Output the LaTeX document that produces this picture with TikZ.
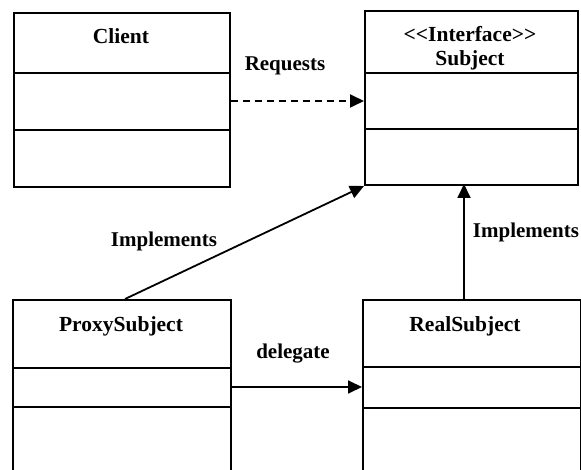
\documentclass[tikz,border=0pt]{standalone}
\usepackage{fontspec}
\newfontfamily\diagfont{Liberation Serif}
\usetikzlibrary{arrows.meta}
\tikzset{
  classbox/.style={draw, line width=2pt, rectangle, inner sep=0pt, anchor=north west},
  divider/.style={line width=2pt},
  title/.style={font=\diagfont\bfseries\fontsize{21.5}{25}\selectfont, inner sep=0pt, anchor=base},
  lbl/.style={font=\diagfont\bfseries\fontsize{21}{25}\selectfont, inner sep=0pt, anchor=base},
  link/.style={line width=1.8pt, -{Triangle[length=14pt,width=13pt]}},
}
\begin{document}
\begin{tikzpicture}[x=1pt, y=-1pt]
  \useasboundingbox (0,0) rectangle (581,470);
  \clip (0,0) rectangle (581,470);

  % class boxes
  \node[classbox, minimum width=216pt, minimum height=174pt] (client) at (13,12) {};
  \node[classbox, minimum width=213pt, minimum height=174pt] (subject) at (364,10) {};
  \node[classbox, minimum width=218pt, minimum height=200pt] (proxy) at (12,299) {};
  \node[classbox, minimum width=218pt, minimum height=200pt] (real) at (362,299) {};

  % compartments
  \draw[divider] (client.west |- 0,73) -- (client.east |- 0,73);
  \draw[divider] (client.west |- 0,130) -- (client.east |- 0,130);
  \draw[divider] (subject.west |- 0,73) -- (subject.east |- 0,73);
  \draw[divider] (subject.west |- 0,129) -- (subject.east |- 0,129);
  \draw[divider] (proxy.west |- 0,368) -- (proxy.east |- 0,368);
  \draw[divider] (proxy.west |- 0,407) -- (proxy.east |- 0,407);
  \draw[divider] (real.west |- 0,367) -- (real.east |- 0,367);
  \draw[divider] (real.west |- 0,408) -- (real.east |- 0,408);

  % class names
  \node[title] (clientname) at (121,44) {Client};
  \node[title] (subjstereo) at (470,42) {<<Interface>>};
  \node[title] (subjname) at (470,66) {Subject};
  \node[title] (proxyname) at (121,331) {ProxySubject};
  \node[title] (realname) at (465,331) {RealSubject};

  % connector end points
  \coordinate (reqA) at (client.east |- 0,101);
  \coordinate (reqB) at (subject.west |- 0,101);
  \coordinate (delA) at (proxy.east |- 0,387);
  \coordinate (delB) at (real.west |- 0,387);
  \coordinate (implA) at (125,299);
  \coordinate (implR) at (464,299);
  \coordinate (implT) at (464,184);

  % connectors
  \draw[link, dashed, dash pattern=on 7pt off 5pt] (reqA) -- (reqB);
  \draw[link] (implA) -- (subject.south west);
  \draw[link] (implR) -- (implT);
  \draw[link] (delA) -- (delB);

  % connector labels
  \node[lbl] (reqlbl) at (285,71) {Requests};
  \node[lbl] (impllbl) at (164,247) {Implements};
  \node[lbl] (impllbl2) at (526,238) {Implements};
  \node[lbl] (dellbl) at (293,359) {delegate};
\end{tikzpicture}
\end{document}
